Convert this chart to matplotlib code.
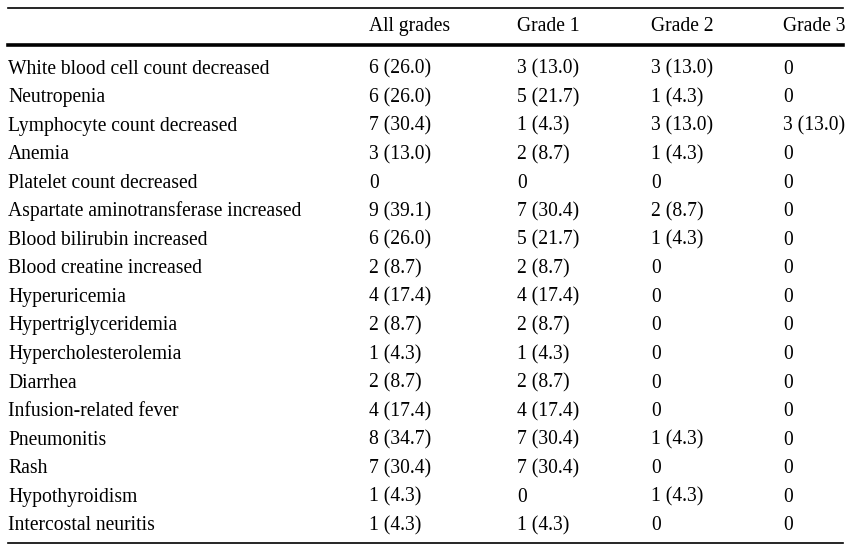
import matplotlib.pyplot as plt

plt.rcParams['font.family'] = ['Liberation Serif', 'DejaVu Serif']

headers = ["", "All grades", "Grade 1", "Grade 2", "Grade 3"]

events = [
    "White blood cell count decreased",
    "Neutropenia",
    "Lymphocyte count decreased",
    "Anemia",
    "Platelet count decreased",
    "Aspartate aminotransferase increased",
    "Blood bilirubin increased",
    "Blood creatine increased",
    "Hyperuricemia",
    "Hypertriglyceridemia",
    "Hypercholesterolemia",
    "Diarrhea",
    "Infusion-related fever",
    "Pneumonitis",
    "Rash",
    "Hypothyroidism",
    "Intercostal neuritis",
]

all_grades = ["6 (26.0)", "6 (26.0)", "7 (30.4)", "3 (13.0)", "0", "9 (39.1)", "6 (26.0)",
              "2 (8.7)", "4 (17.4)", "2 (8.7)", "1 (4.3)", "2 (8.7)", "4 (17.4)",
              "8 (34.7)", "7 (30.4)", "1 (4.3)", "1 (4.3)"]
grade1 = ["3 (13.0)", "5 (21.7)", "1 (4.3)", "2 (8.7)", "0", "7 (30.4)", "5 (21.7)",
          "2 (8.7)", "4 (17.4)", "2 (8.7)", "1 (4.3)", "2 (8.7)", "4 (17.4)",
          "7 (30.4)", "7 (30.4)", "0", "1 (4.3)"]
grade2 = ["3 (13.0)", "1 (4.3)", "3 (13.0)", "1 (4.3)", "0", "2 (8.7)", "1 (4.3)",
          "0", "0", "0", "0", "0", "0", "1 (4.3)", "0", "1 (4.3)", "0"]
grade3 = ["0", "0", "3 (13.0)", "0", "0", "0", "0", "0", "0", "0", "0", "0", "0",
          "0", "0", "0", "0"]

W, H = 852, 552
fig = plt.figure(figsize=(W / 100, H / 100), dpi=100)
ax = fig.add_axes([0, 0, 1, 1])
ax.set_xlim(0, W)
ax.set_ylim(H, 0)
ax.axis('off')

col_x = [8, 369, 517, 651, 783]
fs = 14.1

# rules
ax.plot([8, 843], [8, 8], color='black', lw=1.2)
ax.plot([8, 843], [45, 45], color='black', lw=2.6)
ax.plot([8, 843], [543, 543], color='black', lw=1.2)

for x, h in zip(col_x, headers):
    ax.text(x, 30.7, h, fontsize=fs, va='baseline', ha='left')

row0, step = 73.5, 28.55
columns = [events, all_grades, grade1, grade2, grade3]
for i in range(len(events)):
    y = row0 + i * step
    for x, col in zip(col_x, columns):
        ax.text(x, y, col[i], fontsize=fs, va='baseline', ha='left')

fig.savefig("out.png", dpi=100)
